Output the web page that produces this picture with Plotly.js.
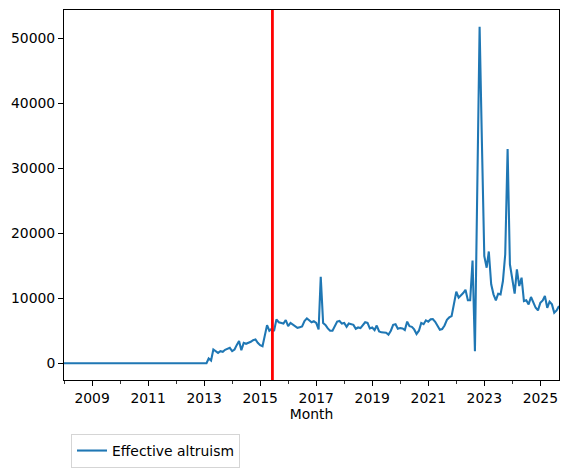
<!DOCTYPE html>
<html>
<head>
<meta charset="utf-8">
<script src="https://cdn.plot.ly/plotly-3.0.1.min.js"></script>
<style>html,body{margin:0;padding:0;background:#fff;}#chart{width:569px;height:473px;}</style>
</head>
<body>
<div id="chart"></div>
<script>
// Monthly values from 2008-01 to 2025-09
const startYear = 2008;
const zerosBefore2013 = 62; // 2008-01 .. 2013-02
const values2013on = [
  720, 410, 2110, 1850, 1590, 1850, 1750, 2060, 2270, 2370,          // 2013-03..2013-12
  1850, 2110, 2780, 3400, 2000, 3130, 2980, 3130, 3290, 3550, 3650, 3130, // 2014
  2780, 2620, 4430, 5860, 5000, 5300, 4940, 6740, 6300, 6200, 6100, 6650, // 2015
  5700, 6200, 5950, 5600, 5450, 5550, 5650, 6500, 6900, 6600, 6300, 6450, // 2016
  6200, 5200, 13300, 6200, 5900, 5350, 5000, 5000, 5700, 6400, 6500, 6100, // 2017
  6200, 5600, 6100, 6000, 5900, 5300, 5500, 5400, 5800, 6300, 6200, 5350, // 2018
  5500, 5100, 5800, 4900, 4750, 4700, 4700, 4400, 5000, 5900, 6000, 5300, // 2019
  5400, 5350, 5100, 6400, 5700, 5600, 5200, 4500, 5000, 6200, 6000, 6600, // 2020
  6400, 6750, 6800, 6370, 5710, 5150, 5250, 5810, 6690, 7050, 7250, 9150, // 2021
  11000, 10080, 10400, 10800, 11300, 9700, 9700, 15800, 1850, 27000, 51800, 34000, // 2022
  16500, 14700, 17200, 12140, 10600, 9680, 10700, 10600, 12650, 16770, 32980, 15230, // 2023
  13170, 10700, 14460, 11880, 13170, 9570, 9680, 9060, 10190, 9460, 8530, 8130, // 2024
  9310, 9670, 10340, 8530, 9460, 9060, 7770, 8130, 8800  // 2025-01..2025-09
];
const seriesName = "Effective altruism";
const markerDate = "2015-06-10";
const yTickVals = [0, 10000, 20000, 30000, 40000, 50000];
const xTickYears = [2009, 2011, 2013, 2015, 2017, 2019, 2021, 2023, 2025];

const values = new Array(zerosBefore2013).fill(0).concat(values2013on);
const months = values.map((v, i) => {
  const y = startYear + Math.floor(i / 12);
  const m = (i % 12) + 1;
  return y + "-" + String(m).padStart(2, "0") + "-01";
});

const font = {family: "DejaVu Sans, sans-serif", size: 13.9, color: "#000"};

const trace = {
  x: months, y: values, type: "scatter", mode: "lines", name: seriesName,
  line: {color: "#1f77b4", width: 2.08}
};

const layout = {
  width: 569, height: 473,
  margin: {l: 64, r: 9.5, t: 10, b: 93, pad: 0, autoexpand: false},
  paper_bgcolor: "#fff", plot_bgcolor: "#fff",
  font: font,
  showlegend: true,
  legend: {
    xref: "container", yref: "container",
    x: 71 / 569, y: 1 - 434 / 473, xanchor: "left", yanchor: "top",
    bordercolor: "#d5d5d5", borderwidth: 1, bgcolor: "#fff",
    font: font, itemwidth: 30
  },
  xaxis: {
    type: "date",
    range: [months[0], months[months.length - 1]],
    tickvals: xTickYears.map(y => y + "-01-01"),
    ticktext: xTickYears.map(String),
    ticks: "outside", ticklen: 4.9, tickwidth: 1.1, tickcolor: "#000",
    minor: {ticks: "outside", ticklen: 2.8, tickwidth: 0.8, tickcolor: "#000", dtick: "M12", tick0: "2008-01-01", showgrid: false},
    showline: true, mirror: true, linecolor: "#000", linewidth: 1.1,
    showgrid: false, zeroline: false,
    title: {text: "Month", font: font, standoff: 4},
    tickfont: font
  },
  yaxis: {
    range: [-2590, 54390],
    tickvals: yTickVals,
    ticktext: yTickVals.map(String),
    ticks: "outside", ticklen: 4.9, tickwidth: 1.1, tickcolor: "#000",
    showline: true, mirror: true, linecolor: "#000", linewidth: 1.1,
    showgrid: false, zeroline: false,
    tickfont: font
  },
  shapes: [{
    type: "line", xref: "x", yref: "paper",
    x0: markerDate, x1: markerDate, y0: 0, y1: 1,
    line: {color: "red", width: 2.78}
  }]
};

Plotly.newPlot("chart", [trace], layout, {displayModeBar: false, staticPlot: true});
</script>
</body>
</html>
